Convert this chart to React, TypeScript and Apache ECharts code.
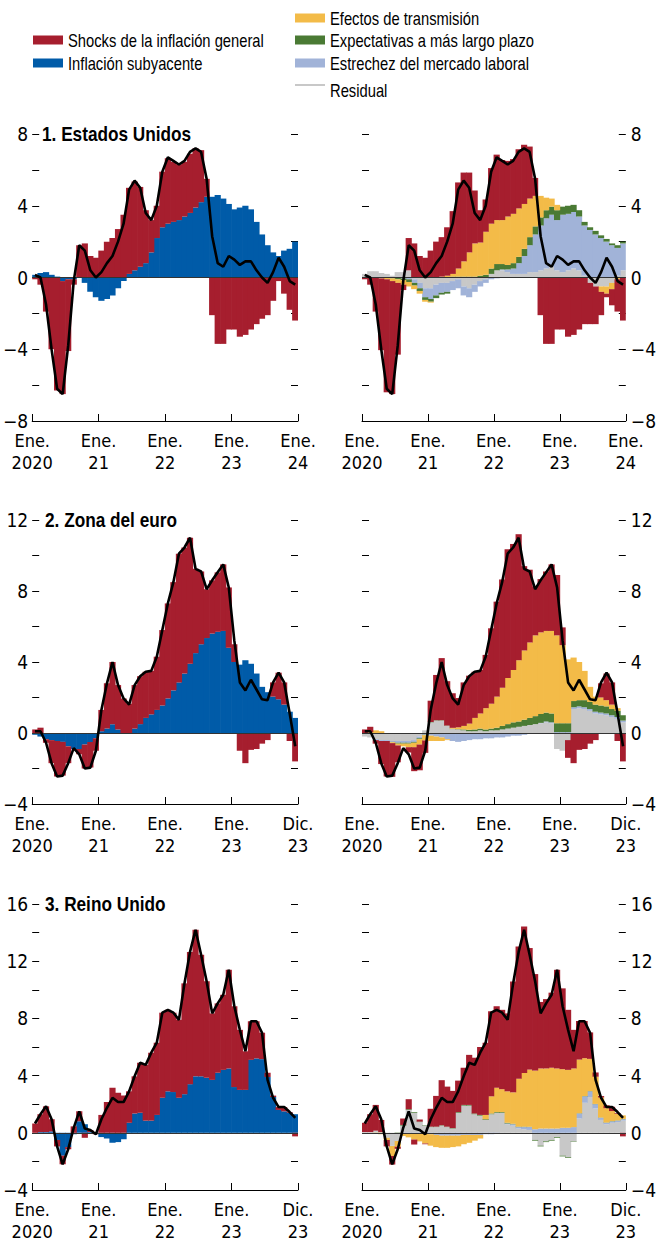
import React, { useEffect, useRef } from "react";
import * as echarts from "echarts";

const AXIS_FONT = "'DejaVu Sans Condensed', 'Liberation Sans', sans-serif";
const TEXT_FONT = "'Liberation Sans', Arial, sans-serif";
const NARROW = 0.82;
const COLORS = {
  shock: "#A61E2E",
  core: "#005BA8",
  trans: "#F3BB48",
  exp: "#4A7A34",
  labor: "#A1B3D8",
  resid: "#C8C8C8",
};

// 48 monthly categories, Jan 2020 .. Dec 2023
const MONTHS: string[] = [];
for (let y = 2020; y <= 2023; y++) for (let m = 1; m <= 12; m++) MONTHS.push(`${y}-${m < 10 ? "0" + m : m}`);

const X_LABELS_US = ["Ene.\n2020", "Ene.\n21", "Ene.\n22", "Ene.\n23", "Ene.\n24"];
const X_LABELS_EU = ["Ene.\n2020", "Ene.\n21", "Ene.\n22", "Ene.\n23", "Dic.\n23"];

// ---------- 1. Estados Unidos ----------
const US_TOTAL = [0.15,0.0,-1.5,-4.0,-6.2,-6.5,-3.8,-0.2,1.8,1.5,0.4,0.0, 0.3,0.8,1.2,2.0,3.0,4.9,5.4,5.0,3.6,3.2,4.0,5.9, 6.7,6.5,6.3,6.5,7.0,7.2,7.0,5.5,2.3,0.8,0.6,1.2, 1.0,0.7,0.9,0.9,0.4,0.0,-0.3,0.3,1.1,0.6,-0.2,-0.4];
const US_CORE = [0.15,0.25,0.3,0.15,0.05,-0.2,-0.1,-0.1,0.0,-0.3,-0.8,-1.1, -1.3,-1.2,-1.0,-0.6,-0.2,0.2,0.4,0.6,0.8,1.4,2.2,2.8, 3.0,3.1,3.2,3.4,3.6,3.9,4.2,4.5,4.5,4.6,4.4,4.1, 3.8,3.9,4.0,3.8,3.1,2.4,1.8,1.4,1.2,1.5,1.6,2.0];
const US_SHOCK = [-0.1,-0.4,-1.9,-4.0,-6.3,-6.3,-4.0,-0.3,1.8,1.9,1.2,1.1, 1.5,2.0,2.2,2.7,3.5,4.8,4.95,4.45,2.95,1.8,1.8,3.1, 3.65,3.35,3.1,3.05,3.3,3.3,2.9,1.0,-2.1,-3.7,-3.7,-2.9, -2.9,-3.3,-3.2,-2.9,-2.6,-2.3,-2.1,-1.3,-0.2,-0.9,-1.8,-2.4];
const US_RESID = [0.2,0.35,0.35,0.25,0.2,0.1,0.3,0.3,0.4,-0.1,-0.3,-0.6, -0.6,-0.4,-0.3,-0.3,-0.2,-0.1,-0.5,-0.6,-0.4,-0.2,-0.1,0.2, 0.4,0.4,0.3,0.2,0.2,0.2,0.3,0.3,0.4,0.5,0.6,0.4, 0.3,0.4,0.5,0.4,0.1,-0.3,-0.5,-0.5,-0.5,-0.3,0.1,0.4];
const US_LABOR = [0,0,0,0,0,0,0,-0.05,-0.1,-0.2,-0.3,-0.5, -0.6,-0.6,-0.55,-0.5,-0.5,-0.5,-0.5,-0.5,-0.4,-0.3,-0.2,-0.1, -0.05,0.05,0.15,0.3,0.6,1.0,1.5,2.1,2.5,2.8,2.9,2.8, 3.2,3.15,3.15,3.0,2.8,2.65,2.4,2.2,2.0,1.8,1.55,1.5];
const US_EXP = [0,0,0,0,0,-0.05,-0.1,-0.1,-0.15,-0.15,-0.15,-0.15, -0.15,-0.15,-0.1,-0.1,0.05,0.05,0.05,0.05,0.05,0.1,0.15,0.3, 0.35,0.3,0.25,0.3,0.35,0.4,0.45,0.45,0.45,0.45,0.45,0.55, 0.45,0.45,0.4,0.35,0.2,0.15,0.2,0.15,0.15,0.1,0.15,0.1];
const US_TRANS = [0,0,0,-0.05,-0.1,-0.15,-0.2,-0.25,-0.25,-0.2,-0.15,-0.1, -0.05,0,0.05,0.1,0.15,0.45,0.85,1.35,1.85,1.85,2.4,2.5, 2.45,2.45,2.7,2.75,2.7,2.5,2.15,1.7,1.2,0.7,0.45,0.3, 0,0,0,0,0,0,0,-0.3,-0.4,-0.35,-0.1,0];

// ---------- 2. Zona del euro ----------
const EA_TOTAL = [0.1,0.1,-0.55,-1.7,-2.45,-2.4,-1.7,-0.85,-1.2,-2.0,-1.95,-1.0, 1.3,2.8,4.0,2.7,1.95,1.6,2.7,3.2,3.45,3.5,4.3,5.8, 7.3,8.5,10.1,10.45,11.0,9.25,9.1,8.1,8.6,9.05,9.5,8.2, 5.2,2.85,2.4,3.0,2.45,1.9,1.85,2.85,3.4,2.85,1.1,-0.75];
const EA_CORE = [-0.1,-0.2,-0.35,-0.4,-0.45,-0.5,-0.75,-0.9,-0.9,-0.65,-0.5,-0.3, 0.1,0.25,0.5,0.2,0.0,-0.05,0.25,0.5,0.85,1.05,1.3,1.55, 1.95,2.4,2.85,3.35,3.9,4.5,5.0,5.35,5.6,5.7,5.75,4.8, 4.0,3.85,4.1,3.9,3.35,2.6,2.3,2.05,1.9,1.6,1.2,0.85];
const EA_SHOCK = [0.2,0.3,-0.2,-1.3,-2.0,-1.9,-0.95,0.0,-0.3,-1.35,-1.45,-0.7, 1.2,2.55,3.5,2.5,1.95,1.65,2.45,2.7,2.6,2.45,3.0,4.25, 5.35,6.1,7.25,7.1,7.1,4.75,4.1,2.75,3.0,3.35,3.75,3.4, 1.0,-1.0,-1.7,-0.95,-0.9,-0.6,-0.4,0.8,1.5,1.25,-0.45,-1.6];
const EA_RESID = [-0.2,-0.25,-0.35,-0.4,-0.4,-0.45,-0.45,-0.45,-0.45,-0.4,-0.2,0.15, 0.6,0.7,0.7,0.4,0.22,0.2,0.15,0.1,0.1,0.15,0.1,0.15, 0.15,0.2,0.25,0.3,0.35,0.4,0.45,0.5,0.55,0.6,0.55,-0.9, -1.0,-0.4,1.35,1.4,1.35,1.25,1.1,1.05,1.0,0.9,0.8,0.6];
const EA_LABOR = [0,0,-0.05,-0.05,-0.05,-0.05,-0.1,-0.1,-0.1,-0.1,-0.1,-0.1, -0.15,-0.2,-0.25,-0.35,-0.45,-0.5,-0.45,-0.4,-0.35,-0.35,-0.3,-0.3, -0.25,-0.25,-0.2,-0.15,-0.15,-0.1,-0.05,0,0.02,0.05,0.05,0.05, 0.05,0.05,0.1,0.1,0.1,0.1,0.1,0.1,0.1,0.1,0.1,0.1];
const EA_EXP = [0,0,0,0,0,-0.02,-0.05,-0.05,-0.05,-0.05,-0.05,-0.02, 0.02,0.02,0.02,0.02,0.02,0.02,0.05,0.08,0.1,0.1,0.1,0.1, 0.15,0.2,0.25,0.3,0.3,0.35,0.4,0.45,0.5,0.5,0.5,0.5, 0.5,0.5,0.35,0.35,0.4,0.4,0.4,0.4,0.4,0.35,0.35,0.3];
const EA_TRANS = [0,0.05,0.15,0.1,0,-0.05,-0.1,-0.15,-0.2,-0.25,-0.3,-0.3, -0.3,-0.25,-0.2,-0.05,0.05,0.1,0.2,0.35,0.65,0.85,1.2,1.4, 1.75,2.15,2.6,2.95,3.45,3.9,4.25,4.55,4.6,4.6,4.65,4.95, 4.4,3.6,2.45,2.15,1.65,0.85,0.45,0.45,0.35,0.25,0.15,0.0];

// ---------- 3. Reino Unido ----------
const UK_TOTAL = [0.65,1.3,1.85,0.95,-0.95,-2.2,-1.15,0.35,1.5,0.3,0.2,-0.1, 0.95,1.75,2.45,2.15,2.15,2.9,3.95,4.9,4.75,5.6,6.3,8.4, 8.6,8.4,7.9,10.45,12.65,14.2,12.45,10.6,8.35,9.05,9.65,11.4, 8.85,7.2,5.7,7.8,7.8,7.0,3.7,2.45,1.8,1.8,1.45,1.05];
const UK_CORE = [0,0.05,0.05,0.1,-0.5,-1.6,-1.0,-0.1,0.8,0.6,0.05,-0.05, -0.3,-0.4,-0.7,-0.65,-0.45,0.7,1.35,1.4,0.85,0.85,1.25,2.45, 2.9,2.85,2.45,2.7,3.4,3.95,3.95,3.85,3.7,4.2,4.4,4.5, 3.2,3.0,3.0,5.1,5.2,5.15,3.9,2.5,1.6,1.5,1.4,1.3];
const UK_SHOCK = [0.65,1.25,1.8,0.85,-0.45,-0.6,-0.15,0.45,0.7,-0.35,0.15,-0.05, 1.25,2.15,3.15,2.8,2.6,2.2,2.6,3.5,3.9,4.75,5.05,5.95, 5.7,5.55,5.45,7.75,9.25,10.25,8.5,6.75,4.65,4.85,5.25,6.9, 5.65,4.2,2.7,2.7,2.6,1.85,0.3,0.1,0.2,0.3,0.05,-0.25];
const UK_RESID = [0.05,0.05,0.15,0.05,-0.35,-0.9,-0.55,0.5,1.6,1.4,0.75,0.5, 0.4,0.4,0.5,0.4,0.3,1.4,1.9,1.9,1.3,1.2,0.9,1.3, 1.4,1.4,0.6,0.5,0.3,0.25,0.2,-0.5,-0.9,-0.6,-0.5,-0.3, -1.6,-1.7,-0.6,1.0,2.1,2.5,1.7,0.9,0.6,0.7,0.75,0.85];
const UK_LABOR = [0,0,0,0,0,-0.02,-0.02,-0.02,-0.02,-0.02,-0.05,-0.05, -0.1,-0.15,-0.2,-0.2,-0.2,-0.2,-0.15,-0.15,-0.15,-0.15,-0.1,-0.1, -0.05,0,0.05,0.1,0.1,0.15,0.2,0.25,0.3,0.3,0.3,0.3, 0.35,0.35,0.4,0.35,0.45,0.4,0.3,0.15,0.1,0.1,0.1,0.1];
const UK_EXP = [0,0,0,0,0,0,0.02,0.05,0.05,0.05,0.03,0.03, 0.03,0.03,0.03,0.03,0.03,0.05,0.05,0.05,0.05,0.05,0.05,0.05, 0.05,0.05,0.05,0.03,0.03,0.03,0.02,-0.05,-0.05,-0.05,-0.05,-0.05, -0.05,-0.05,-0.03,0.02,0.02,0.02,0.02,0.02,0.02,0.02,0.02,0.02];
const UK_TRANS = [0,0,-0.05,-0.1,-0.15,-0.7,-0.4,-0.2,-0.3,-0.45,-0.55,-0.7, -0.8,-0.85,-0.85,-0.85,-0.8,-0.75,-0.65,-0.55,-0.4,-0.25,0.3,1.2, 1.7,1.6,2.2,2.2,3.35,3.75,4.0,4.1,4.2,4.2,4.25,4.2, 4.1,4.05,4.1,3.75,2.65,2.25,1.9,1.4,1.0,0.7,0.45,0.25];

const PANELS = [
  { title: "1. Estados Unidos", yMin: -8, yMax: 8, xLabels: X_LABELS_US, total: US_TOTAL, core: US_CORE, shock: US_SHOCK, resid: US_RESID, labor: US_LABOR, exp: US_EXP, trans: US_TRANS },
  { title: "2. Zona del euro", yMin: -4, yMax: 12, xLabels: X_LABELS_EU, total: EA_TOTAL, core: EA_CORE, shock: EA_SHOCK, resid: EA_RESID, labor: EA_LABOR, exp: EA_EXP, trans: EA_TRANS },
  { title: "3. Reino Unido", yMin: -4, yMax: 16, xLabels: X_LABELS_EU, total: UK_TOTAL, core: UK_CORE, shock: UK_SHOCK, resid: UK_RESID, labor: UK_LABOR, exp: UK_EXP, trans: UK_TRANS },
];

const ROWS = [
  { top: 134, height: 287 },
  { top: 520, height: 284 },
  { top: 904, height: 286 },
];
const COLS = [
  { left: 30, width: 268 },
  { left: 362, width: 267 },
];

const fmtY = (v: number) => (v % 4 === 0 ? (v < 0 ? "\u2212" + Math.abs(v) : String(v)) : "");

function buildOption() {
  const grid: any[] = [];
  const xAxis: any[] = [];
  const yAxis: any[] = [];
  const series: any[] = [];
  const graphic: any[] = [];

  PANELS.forEach((p, r) => {
    COLS.forEach((c, col) => {
      const g = r * 2 + col;
      const bw = c.width / MONTHS.length + 0.6;
      grid.push({ left: c.left, top: ROWS[r].top, width: c.width, height: ROWS[r].height, containLabel: false });
      xAxis.push({ type: "category", gridIndex: g, data: MONTHS, show: false, boundaryGap: true });
      xAxis.push({
        type: "value", gridIndex: g, min: 0, max: 48, interval: 12, position: "bottom",
        axisLine: { show: true, onZero: false, lineStyle: { color: "#000", width: 1 } },
        axisTick: { show: true, inside: true, length: 7, lineStyle: { color: "#000", width: 1 } },
        splitLine: { show: false },
        axisLabel: {
          margin: 8, color: "#000", fontSize: 18, lineHeight: 22, fontFamily: AXIS_FONT,
          showMinLabel: true, showMaxLabel: true,
          formatter: (v: number) => p.xLabels[Math.round(v / 12)] || "",
        },
      });
      const mkY = (pos: string, showLabel: boolean) => ({
        type: "value", gridIndex: g, position: pos, min: p.yMin, max: p.yMax, interval: 2,
        axisLine: { show: false },
        axisTick: { show: true, inside: true, length: 7, lineStyle: { color: "#000", width: 1 } },
        splitLine: { show: false },
        axisLabel: { show: showLabel, margin: pos === "left" ? 4 : 5, color: "#000", fontSize: 19, fontFamily: AXIS_FONT, formatter: fmtY },
      });
      yAxis.push(mkY("left", col === 0));
      yAxis.push(mkY("right", col === 1));

      const bar = (name: string, data: number[], color: string) => ({
        type: "bar", name, xAxisIndex: g * 2, yAxisIndex: g * 2, stack: "s" + g, data,
        barWidth: bw, silent: true,
        itemStyle: { color },
      });
      if (col === 0) {
        series.push(bar("Inflación subyacente", p.core, COLORS.core));
        series.push(bar("Shocks de la inflación general", p.shock, COLORS.shock));
      } else {
        series.push(bar("Residual", p.resid, COLORS.resid));
        series.push(bar("Estrechez del mercado laboral", p.labor, COLORS.labor));
        series.push(bar("Expectativas a más largo plazo", p.exp, COLORS.exp));
        series.push(bar("Efectos de transmisión", p.trans, COLORS.trans));
        series.push(bar("Shocks de la inflación general", p.shock, COLORS.shock));
      }
      series.push({
        type: "line", name: "Total", xAxisIndex: g * 2, yAxisIndex: g * 2, data: p.total,
        symbol: "none", silent: true, z: 5,
        lineStyle: { color: "#000", width: 2.6 },
        markLine: {
          silent: true, symbol: ["none", "none"], label: { show: false },
          lineStyle: { color: "#333", width: 1, type: "solid" },
          data: [{ yAxis: 0 }],
        },
      });
    });
    graphic.push({
      type: "text", x: r === 0 ? 42 : 45, y: ROWS[r].top, scaleX: NARROW,
      style: { x: 0, y: 0, text: p.title, fill: "#000", fontSize: 21, fontWeight: "bold", fontFamily: TEXT_FONT, verticalAlign: "middle", textVerticalAlign: "middle" },
    });
  });

  // Legend
  const sw = (x: number, y: number, color: string) => ({ type: "rect", shape: { x, y: y - 4.5, width: 30, height: 9 }, style: { fill: color } });
  const tx = (x: number, y: number, text: string) => ({
    type: "text", x, y, scaleX: NARROW,
    style: { x: 0, y: 0, text, fill: "#000", fontSize: 18, fontFamily: TEXT_FONT, verticalAlign: "middle", textVerticalAlign: "middle" },
  });
  graphic.push(sw(33, 40, COLORS.shock), tx(68, 40, "Shocks de la inflación general"));
  graphic.push(sw(33, 63, COLORS.core), tx(68, 63, "Inflación subyacente"));
  graphic.push(sw(295, 18, COLORS.trans), tx(330, 18, "Efectos de transmisión"));
  graphic.push(sw(295, 40, COLORS.exp), tx(330, 40, "Expectativas a más largo plazo"));
  graphic.push(sw(295, 63, COLORS.labor), tx(330, 63, "Estrechez del mercado laboral"));
  graphic.push({ type: "line", shape: { x1: 295, y1: 85, x2: 325, y2: 85 }, style: { stroke: COLORS.resid, lineWidth: 2 } });
  graphic.push(tx(330, 90, "Residual"));

  return {
    animation: false,
    backgroundColor: "#fff",
    textStyle: { fontFamily: AXIS_FONT },
    grid, xAxis, yAxis, series, graphic,
  };
}

export default function App() {
  const ref = useRef<HTMLDivElement>(null);
  useEffect(() => {
    document.body.style.margin = "0";
    if (!ref.current) return;
    const chart = echarts.init(ref.current, undefined, { renderer: "svg" });
    chart.setOption(buildOption() as any);
    return () => chart.dispose();
  }, []);
  return <div ref={ref} style={{ width: 659, height: 1243 }} />;
}
